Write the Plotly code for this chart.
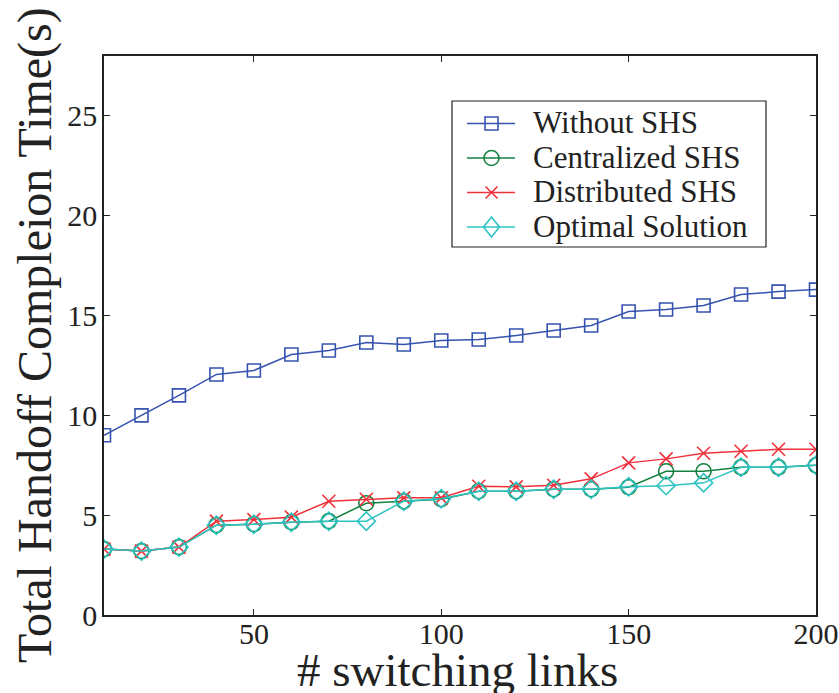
import plotly.graph_objects as go

# Number of switching links on the x axis
links = [10, 20, 30, 40, 50, 60, 70, 80, 90, 100,
         110, 120, 130, 140, 150, 160, 170, 180, 190, 200]

# Total handoff completion time (s) per scheme
without_shs = [9.0, 10.0, 11.0, 12.05, 12.25, 13.05, 13.25, 13.65, 13.55, 13.75,
               13.8, 14.0, 14.25, 14.5, 15.2, 15.3, 15.5, 16.05, 16.2, 16.3]
centralized_shs = [3.3, 3.2, 3.4, 4.5, 4.55, 4.65, 4.7, 5.6, 5.7, 5.8,
                   6.2, 6.2, 6.3, 6.3, 6.4, 7.2, 7.2, 7.4, 7.4, 7.5]
distributed_shs = [3.3, 3.2, 3.4, 4.7, 4.78, 4.9, 5.7, 5.8, 5.87, 5.87,
                   6.45, 6.42, 6.5, 6.82, 7.62, 7.82, 8.1, 8.2, 8.3, 8.3]
optimal_solution = [3.3, 3.2, 3.4, 4.5, 4.55, 4.65, 4.7, 4.7, 5.7, 5.82,
                    6.2, 6.2, 6.3, 6.3, 6.42, 6.48, 6.62, 7.4, 7.4, 7.5]

x_ticks = [50, 100, 150, 200]
y_ticks = [0, 5, 10, 15, 20, 25]

series_names = ["Without SHS", "Centralized SHS", "Distributed SHS", "Optimal Solution"]
series_values = [without_shs, centralized_shs, distributed_shs, optimal_solution]
series_colors = ["#3653b0", "#148040", "#f0303a", "#2ec3c3"]
series_symbols = ["square-open", "circle-open", "x-thin-open", "diamond-open"]
series_sizes = [13, 15, 13, 14]

W, H = 839, 693
L, R, T, B = 104, 23, 56, 78
PW, PH = W - L - R, H - T - B
INK = "#222222"
SERIF = "Liberation Serif, Times New Roman, serif"


def px(xp):
    """Horizontal page pixel -> paper coordinate."""
    return (xp - L) / PW


def py(yp):
    """Vertical page pixel (from top) -> paper coordinate."""
    return (H - B - yp) / PH


fig = go.Figure()
for name, vals, color, symbol, size in zip(series_names, series_values, series_colors,
                                           series_symbols, series_sizes):
    fig.add_trace(go.Scatter(
        x=links, y=vals, name=name, mode="lines+markers",
        line=dict(color=color, width=1.5),
        marker=dict(symbol=symbol, size=size, color=color,
                    line=dict(color=color, width=1.6)),
        showlegend=False,
    ))

shapes = []
annotations = []

# Legend box with key samples drawn as shapes, labels as annotations
box_x0, box_x1, box_y0, box_y1 = 452, 766, 101, 247
shapes.append(dict(type="rect", xref="paper", yref="paper",
                   x0=px(box_x0), x1=px(box_x1), y0=py(box_y1), y1=py(box_y0),
                   line=dict(color=INK, width=1.2), fillcolor="white", layer="above"))
row_y = [123.5, 158, 192.5, 227]
key_x0, key_x1, key_xc = 467, 515, 491.5
for i, (name, color) in enumerate(zip(series_names, series_colors)):
    yc = row_y[i]
    shapes.append(dict(type="line", xref="paper", yref="paper",
                       x0=px(key_x0), x1=px(key_x1), y0=py(yc), y1=py(yc),
                       line=dict(color=color, width=1.5), layer="above"))
    if i == 0:
        h = 6.5
        shapes.append(dict(type="rect", xref="paper", yref="paper",
                           x0=px(key_xc - h), x1=px(key_xc + h),
                           y0=py(yc + h), y1=py(yc - h),
                           line=dict(color=color, width=1.6), layer="above"))
    elif i == 1:
        h = 7.5
        shapes.append(dict(type="circle", xref="paper", yref="paper",
                           x0=px(key_xc - h), x1=px(key_xc + h),
                           y0=py(yc + h), y1=py(yc - h),
                           line=dict(color=color, width=1.6), layer="above"))
    elif i == 2:
        h = 6
        for s in (1, -1):
            shapes.append(dict(type="line", xref="paper", yref="paper",
                               x0=px(key_xc - h), x1=px(key_xc + h),
                               y0=py(yc - s * h), y1=py(yc + s * h),
                               line=dict(color=color, width=1.6), layer="above"))
    else:
        hw, hh = 8, 10
        path = "M {} {} L {} {} L {} {} L {} {} Z".format(
            px(key_xc), py(yc - hh), px(key_xc + hw), py(yc),
            px(key_xc), py(yc + hh), px(key_xc - hw), py(yc))
        shapes.append(dict(type="path", xref="paper", yref="paper", path=path,
                           line=dict(color=color, width=1.6), layer="above"))
    annotations.append(dict(text=name, xref="paper", yref="paper",
                            x=px(531), y=py(yc - 1), xanchor="left", yanchor="middle",
                            showarrow=False,
                            font=dict(size=31, family=SERIF, color=INK)))

# Axis titles
annotations.append(dict(text="# switching links", xref="paper", yref="paper",
                        x=px(457), y=py(670), xanchor="center", yanchor="middle",
                        showarrow=False, font=dict(size=47, family=SERIF, color=INK)))
annotations.append(dict(text="Total Handoff Compleion Time(s)", xref="paper", yref="paper",
                        x=px(35), y=py(335), xanchor="center", yanchor="middle",
                        textangle=-90, showarrow=False,
                        font=dict(size=48, family=SERIF, color=INK)))

fig.update_layout(
    width=W, height=H,
    margin=dict(l=L, r=R, t=T, b=B, autoexpand=False),
    paper_bgcolor="white", plot_bgcolor="white",
    font=dict(family=SERIF, color=INK, size=30),
    showlegend=False,
    shapes=shapes,
    annotations=annotations,
)

axis_style = dict(
    showline=True, linecolor=INK, linewidth=1.5, mirror="ticks",
    ticks="inside", ticklen=6, tickcolor=INK, tickwidth=1,
    showgrid=False, zeroline=False, automargin=False,
    tickfont=dict(size=30, family=SERIF, color=INK),
)
fig.update_xaxes(range=[10, 200], tickvals=x_ticks, ticklabelstandoff=-9, **axis_style)
fig.update_yaxes(range=[0, 28], tickvals=y_ticks, ticklabelstandoff=-1, **axis_style)

fig.write_html("out.html")
